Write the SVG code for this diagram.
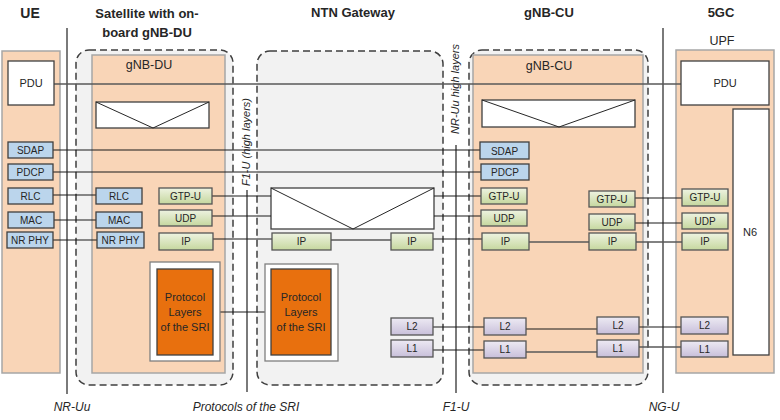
<svg xmlns="http://www.w3.org/2000/svg" width="780" height="420" viewBox="0 0 780 420">
<defs>
<linearGradient id="gGreen" x1="0" y1="0" x2="0" y2="1"><stop offset="0" stop-color="#EEF3E1"/><stop offset="1" stop-color="#C5D79E"/></linearGradient>
<linearGradient id="gPurple" x1="0" y1="0" x2="0" y2="1"><stop offset="0" stop-color="#EDEAF3"/><stop offset="1" stop-color="#C8BFDA"/></linearGradient>
<style>
text{font-family:"Liberation Sans",Arial,sans-serif;fill:#262626}
.hdr{font-weight:bold;font-size:13px;text-anchor:middle}
.ttl{font-size:12.5px;text-anchor:middle}
.lbl{font-size:10px;text-anchor:middle}
.pdu{font-size:11px;text-anchor:middle}
.ital{font-style:italic;font-size:12px;text-anchor:middle}
.rot{font-style:italic;font-size:11px;text-anchor:middle}
.peach{fill:#F9D5B7;stroke:#A6A6A6;stroke-width:1.5}
.dash{fill:#F2F2F2;stroke:#3F3F3F;stroke-width:1.5;stroke-dasharray:7,4}
.white{fill:#FFFFFF;stroke:#404040;stroke-width:1.3}
.blue{fill:#BBD5EC;stroke:#3F3F3F;stroke-width:1.3}
.green{fill:url(#gGreen);stroke:#555;stroke-width:1.3}
.purple{fill:url(#gPurple);stroke:#555;stroke-width:1.3}
.orange{fill:#E8700E;stroke:#3F3F3F;stroke-width:1.3}
.sriw{fill:#FFFFFF;stroke:#7F7F7F;stroke-width:1.3}
.c{stroke:#1A1A1A;stroke-width:1.1;fill:none}
.cg{stroke:#595959;stroke-width:1.5;fill:none}
.v{stroke:#595959;stroke-width:1.6;fill:none}
.tr{fill:none;stroke:#262626;stroke-width:1}
</style>
</defs>
<rect width="780" height="420" fill="#FFFFFF"/>

<!-- headers -->
<text class="hdr" x="30" y="18" style="font-size:14px">UE</text>
<text class="hdr" x="147" y="18">Satellite with on-</text>
<text class="hdr" x="147" y="37">board gNB-DU</text>
<text class="hdr" x="353" y="17">NTN Gateway</text>
<text class="hdr" x="549" y="17">gNB-CU</text>
<text class="hdr" x="721" y="17">5GC</text>
<text class="ttl" x="722" y="45">UPF</text>

<!-- containers -->
<g id="ue">
<rect class="peach" x="2" y="51" width="58" height="322"/>
</g>
<g id="satellite">
<rect class="dash" x="76" y="50" width="157" height="335" rx="13"/>
<rect class="peach" x="92" y="55" width="133" height="318"/>
<text class="ttl" x="149" y="69">gNB-DU</text>
<rect class="white" x="96" y="102" width="113" height="26"/>
<polyline class="tr" points="96,102 153,128 209,102"/>
</g>
<g id="ntn-gateway">
<rect class="dash" x="257" y="51" width="186" height="334" rx="13"/>
<rect class="white" x="271" y="188" width="163" height="41"/>
<polyline class="tr" points="271,188 353,229 434,188"/>
</g>
<g id="gnb-cu">
<rect class="dash" x="469" y="50" width="179" height="335" rx="13"/>
<rect class="peach" x="473" y="55" width="170" height="318"/>
<text class="ttl" x="549" y="70">gNB-CU</text>
<rect class="white" x="482" y="100" width="153" height="27"/>
<polyline class="tr" points="482,100 559,127 635,100"/>
</g>
<g id="upf">
<rect class="peach" x="676" y="50" width="98" height="323"/>
</g>

<!-- interface lines -->
<g id="interfaces">
<line class="v" x1="67" y1="28" x2="67" y2="394"/>
<line class="v" x1="247" y1="190" x2="247" y2="392"/>
<line class="v" x1="456" y1="145" x2="456" y2="393"/>
<line class="v" x1="663" y1="28" x2="663" y2="393"/>
<text class="rot" transform="translate(250,142) rotate(-90)">F1-U (high layers)</text>
<text class="rot" transform="translate(459,89) rotate(-90)">NR-Uu high layers</text>
<text class="ital" x="72" y="411">NR-Uu</text>
<text class="ital" x="246" y="411">Protocols of the SRI</text>
<text class="ital" x="456" y="411">F1-U</text>
<text class="ital" x="664" y="411">NG-U</text>
</g>

<!-- connectors -->
<g id="connectors">
<line class="cg" x1="54" y1="84" x2="681" y2="84"/>
<line class="c" x1="53" y1="150" x2="480" y2="150"/>
<line class="c" x1="53" y1="172" x2="481" y2="172"/>
<line class="c" x1="53" y1="195" x2="96" y2="195"/>
<line class="c" x1="54" y1="220" x2="96" y2="220"/>
<line class="c" x1="53" y1="240" x2="97" y2="240"/>
<line class="c" x1="212" y1="196" x2="271" y2="196"/>
<line class="c" x1="212" y1="216" x2="271" y2="216"/>
<line class="c" x1="213" y1="239" x2="272" y2="239"/>
<line class="c" x1="213" y1="312" x2="271" y2="312"/>
<line class="cg" x1="331" y1="240" x2="391" y2="240"/>
<line class="c" x1="434" y1="196" x2="481" y2="196"/>
<line class="c" x1="434" y1="216" x2="481" y2="216"/>
<line class="c" x1="433" y1="239" x2="482" y2="239"/>
<line class="c" x1="433" y1="327" x2="484" y2="327"/>
<line class="c" x1="433" y1="350" x2="484" y2="350"/>
<line class="cg" x1="529" y1="242" x2="589" y2="242"/>
<line class="c" x1="526" y1="329" x2="597" y2="329"/>
<line class="cg" x1="526" y1="352" x2="597" y2="352"/>
<line class="c" x1="635" y1="198" x2="682" y2="198"/>
<line class="c" x1="635" y1="223" x2="682" y2="223"/>
<line class="cg" x1="636" y1="242" x2="682" y2="242"/>
<line class="c" x1="639" y1="327" x2="681" y2="327"/>
<line class="cg" x1="639" y1="347" x2="681" y2="347"/>
</g>

<!-- UE protocol nodes -->
<g id="ue-pdu"><rect class="white" x="8" y="61" width="46" height="44"/><text class="pdu" x="31" y="87">PDU</text></g>
<g id="ue-sdap"><rect class="blue" x="8" y="142" width="45" height="16"/><text class="lbl" x="30.5" y="154">SDAP</text></g>
<g id="ue-pdcp"><rect class="blue" x="8" y="164" width="45" height="16"/><text class="lbl" x="30.5" y="176">PDCP</text></g>
<g id="ue-rlc"><rect class="blue" x="8" y="188" width="45" height="16"/><text class="lbl" x="30.5" y="200">RLC</text></g>
<g id="ue-mac"><rect class="blue" x="8" y="212" width="46" height="16"/><text class="lbl" x="31" y="224">MAC</text></g>
<g id="ue-nrphy"><rect class="blue" x="7" y="232" width="46" height="16"/><text class="lbl" x="30" y="244">NR PHY</text></g>

<!-- gNB-DU nodes -->
<g id="du-rlc"><rect class="blue" x="96" y="188" width="46" height="16"/><text class="lbl" x="119" y="200">RLC</text></g>
<g id="du-mac"><rect class="blue" x="96" y="212" width="46" height="16"/><text class="lbl" x="119" y="224">MAC</text></g>
<g id="du-nrphy"><rect class="blue" x="97" y="232" width="47" height="16"/><text class="lbl" x="120.5" y="244">NR PHY</text></g>
<g id="du-gtpu"><rect class="green" x="159" y="188" width="53" height="16"/><text class="lbl" x="185.5" y="200">GTP-U</text></g>
<g id="du-udp"><rect class="green" x="159" y="210" width="53" height="16"/><text class="lbl" x="185.5" y="222">UDP</text></g>
<g id="du-ip"><rect class="green" x="159" y="233" width="54" height="17"/><text class="lbl" x="186" y="245">IP</text></g>
<g id="du-sri">
<rect class="sriw" x="150" y="262" width="70" height="99"/>
<rect class="orange" x="157" y="269" width="56" height="86"/>
<text class="pdu" x="185" y="301">Protocol</text>
<text class="pdu" x="185" y="316">Layers</text>
<text class="pdu" x="185" y="331">of the SRI</text>
</g>

<!-- NTN gateway nodes -->
<g id="gw-ip1"><rect class="green" x="272" y="233" width="59" height="17"/><text class="lbl" x="301.5" y="245">IP</text></g>
<g id="gw-ip2"><rect class="green" x="391" y="233" width="42" height="17"/><text class="lbl" x="412" y="245">IP</text></g>
<g id="gw-sri">
<rect class="sriw" x="265" y="264" width="73" height="97"/>
<rect class="orange" x="271" y="269" width="60" height="86"/>
<text class="pdu" x="301" y="301">Protocol</text>
<text class="pdu" x="301" y="316">Layers</text>
<text class="pdu" x="301" y="331">of the SRI</text>
</g>
<g id="gw-l2"><rect class="purple" x="391" y="318" width="42" height="17"/><text class="lbl" x="412" y="330">L2</text></g>
<g id="gw-l1"><rect class="purple" x="391" y="340" width="42" height="17"/><text class="lbl" x="412" y="352">L1</text></g>

<!-- gNB-CU nodes -->
<g id="cu-sdap"><rect class="blue" x="480" y="142" width="49" height="17"/><text class="lbl" x="504.5" y="154.5">SDAP</text></g>
<g id="cu-pdcp"><rect class="blue" x="481" y="164" width="48" height="16"/><text class="lbl" x="505" y="176">PDCP</text></g>
<g id="cu-gtpu1"><rect class="green" x="481" y="188" width="46" height="16"/><text class="lbl" x="504" y="200">GTP-U</text></g>
<g id="cu-udp1"><rect class="green" x="481" y="210" width="46" height="16"/><text class="lbl" x="504" y="222">UDP</text></g>
<g id="cu-ip1"><rect class="green" x="482" y="233" width="47" height="17"/><text class="lbl" x="505.5" y="245">IP</text></g>
<g id="cu-gtpu2"><rect class="green" x="589" y="191" width="46" height="16"/><text class="lbl" x="612" y="203">GTP-U</text></g>
<g id="cu-udp2"><rect class="green" x="589" y="214" width="46" height="16"/><text class="lbl" x="612" y="226">UDP</text></g>
<g id="cu-ip2"><rect class="green" x="589" y="233" width="47" height="17"/><text class="lbl" x="612.5" y="245">IP</text></g>
<g id="cu-l2a"><rect class="purple" x="484" y="318" width="42" height="17"/><text class="lbl" x="505" y="330">L2</text></g>
<g id="cu-l1a"><rect class="purple" x="484" y="341" width="42" height="17"/><text class="lbl" x="505" y="353">L1</text></g>
<g id="cu-l2b"><rect class="purple" x="597" y="317" width="42" height="17"/><text class="lbl" x="618" y="329">L2</text></g>
<g id="cu-l1b"><rect class="purple" x="597" y="340" width="42" height="17"/><text class="lbl" x="618" y="352">L1</text></g>

<!-- UPF nodes -->
<g id="upf-pdu"><rect class="white" x="681" y="61" width="88" height="44"/><text class="pdu" x="725" y="87">PDU</text></g>
<g id="upf-n6"><rect class="white" x="733" y="109" width="36" height="246"/><text class="pdu" x="750" y="236">N6</text></g>
<g id="upf-gtpu"><rect class="green" x="682" y="189" width="46" height="17"/><text class="lbl" x="705" y="201">GTP-U</text></g>
<g id="upf-udp"><rect class="green" x="682" y="213" width="46" height="16"/><text class="lbl" x="705" y="225">UDP</text></g>
<g id="upf-ip"><rect class="green" x="682" y="233" width="46" height="17"/><text class="lbl" x="705" y="245">IP</text></g>
<g id="upf-l2"><rect class="purple" x="681" y="317" width="47" height="17"/><text class="lbl" x="704.5" y="329">L2</text></g>
<g id="upf-l1"><rect class="purple" x="681" y="341" width="47" height="16"/><text class="lbl" x="704.5" y="353">L1</text></g>
</svg>
